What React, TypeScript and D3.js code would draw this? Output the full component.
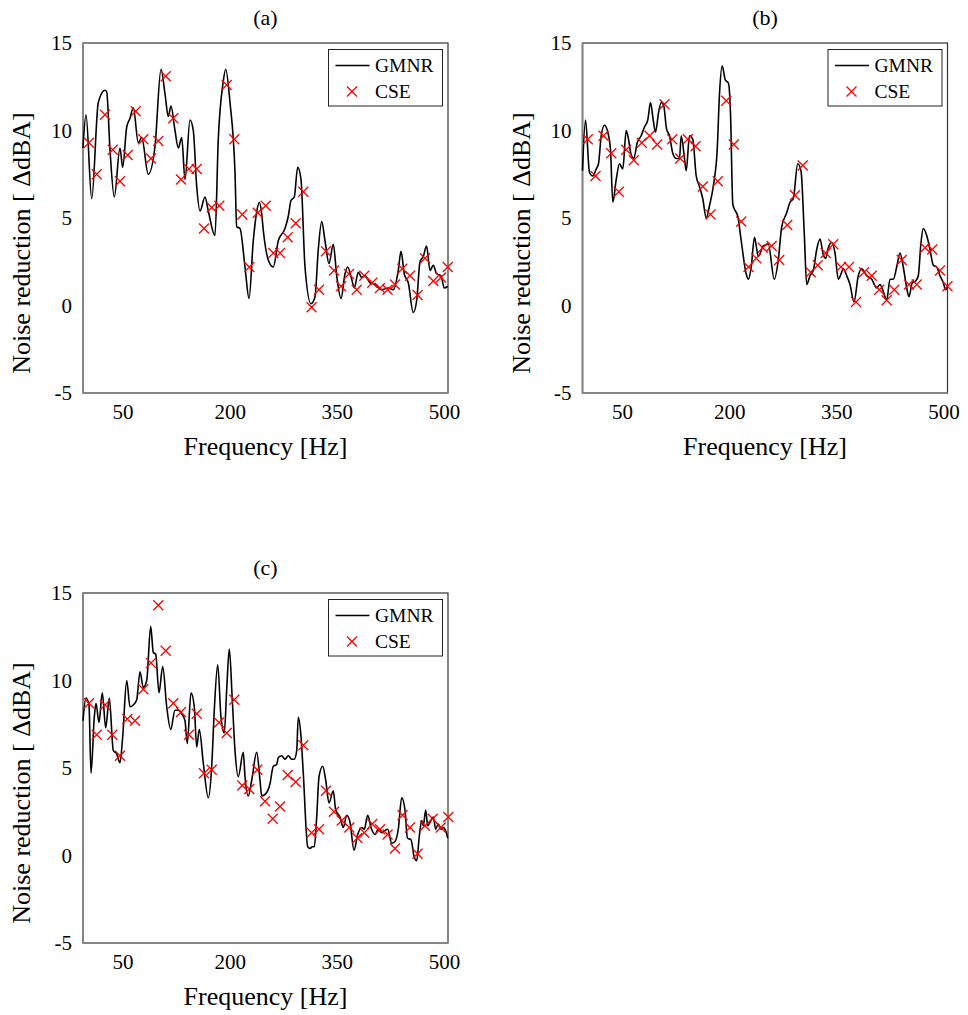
import React from "react"
import * as d3 from "d3"

const FONT = '"Liberation Serif", "Times New Roman", serif'

// axis setup (frequency in Hz, noise reduction in dBA)
const X_DOMAIN: [number, number] = [-6, 505]
const Y_DOMAIN: [number, number] = [-5, 15]
const X_TICKS = [50, 200, 350, 500]
const Y_TICKS = [-5, 0, 5, 10, 15]

const SERIES_LINE = "GMNR"
const SERIES_MARK = "CSE"

// ── Panel (a) ────────────────────────────────────────────────────────────────
const gmnrA: [number, number][] = [
  [-6, 9.0], [-1.8, 10.9], [6.2, 6.1], [15.4, 11.6], [24.8, 12.3], [27.2, 12.2],
  [31.8, 8.9], [37.8, 6.2], [45.8, 9.0], [49.5, 7.9], [55.2, 10.2], [59.8, 10.7],
  [64.5, 11.3], [71.4, 9.3], [76.2, 9.6], [85.4, 7.5], [94.8, 9.1], [103.2, 13.5],
  [108.8, 12.1], [113.4, 10.8], [117.2, 11.4], [122.8, 10.0], [127.4, 9.0],
  [132.2, 9.6], [136.8, 7.2], [143.8, 10.6], [148.4, 10.0], [153.2, 6.8],
  [157.8, 5.4], [164.8, 6.2], [169.4, 5.4], [178.8, 4.0], [183.4, 9.5],
  [190, 12.7], [193.8, 13.5], [199.8, 11.6], [206.8, 7.6], [209.2, 4.5],
  [213.8, 4.4], [220.8, 2.2], [226.4, 0.4], [232.4, 3.7], [237, 5.3],
  [240.8, 5.9], [244, 5.3], [246.4, 4.3], [253.4, 2.6], [260.4, 2.2],
  [267.4, 3.7], [276.8, 4.4], [281.4, 5.1], [285.2, 6.0], [289.8, 6.2],
  [294.6, 7.9], [299.2, 7.2], [304.8, 2.2], [313.2, 0.1], [318.8, 0.5],
  [323.4, 3.2], [328.2, 4.8], [332.8, 3.7], [338.4, 2.4], [344.4, 3.5],
  [349.2, 1.7], [355.2, 0.4], [360.8, 1.8], [364.5, 2.2], [370.2, 1.5],
  [373.8, 1.0], [379.4, 1.9], [384.2, 1.6], [388.8, 1.7], [395.8, 1.3],
  [402.8, 1.2], [412, 0.9], [421.4, 1.0], [428.4, 0.9], [435.4, 2.0],
  [439.2, 3.1], [443.8, 1.8], [449.4, 1.3], [456.4, -0.4], [461.2, 0.3],
  [465.8, 2.5], [470.4, 2.8], [475, 3.4], [479.8, 2.0], [484.4, 2.3],
  [489.2, 1.8], [495.2, 1.7], [499.8, 1.0], [504.6, 1.1],
]

const cseA: [number, number][] = [
  [2.4, 9.3], [13.2, 7.5], [24.8, 10.9], [35.6, 8.9], [45.8, 7.1], [56.6, 8.6],
  [67.8, 11.1], [78.4, 9.5], [89.2, 8.4], [99.4, 9.4], [109.8, 13.1], [120.4, 10.7],
  [131.2, 7.2], [142.4, 7.8], [153.2, 7.8], [163.4, 4.4], [174.2, 5.6], [184.8, 5.7],
  [195.2, 12.6], [205.8, 9.5], [217, 5.2], [226.8, 2.2], [238.6, 5.3], [249.8, 5.7],
  [260.4, 3.0], [269.8, 3.0], [280.6, 3.9], [291.8, 4.7], [302.4, 6.5], [314, -0.1],
  [324.4, 0.9], [334.2, 3.1], [345.4, 2.0], [355.2, 1.1], [366.4, 1.8], [377.2, 0.9],
  [387.8, 1.7], [399, 1.3], [409.8, 1.0], [420.4, 0.9], [430.8, 1.2], [441, 2.1],
  [451.8, 1.7], [462.4, 0.6], [472.8, 2.7], [484.4, 1.4], [495.2, 1.6], [504.6, 2.2],
]

// ── Panel (b) ────────────────────────────────────────────────────────────────
const gmnrB: [number, number][] = [
  [-6, 7.7], [-1.8, 10.6], [3.8, 7.6], [8.4, 7.4], [13.2, 7.8], [16.4, 8.1],
  [20.2, 9.7], [24.8, 10.3], [29.4, 9.9], [33.2, 8.9], [36.4, 5.9], [41.2, 7.2],
  [45.8, 8.1], [50.4, 7.8], [55.2, 10.0], [58.4, 9.5], [62.2, 8.6], [65.8, 8.4],
  [70.6, 9.3], [76.2, 9.7], [80.8, 10.2], [85.4, 10.6], [89.2, 11.6], [93, 10.6],
  [96.2, 9.9], [100.4, 11.0], [104.2, 11.6], [107.8, 11.4], [111.6, 10.1],
  [115.8, 9.7], [120.4, 8.7], [125.2, 8.4], [129.8, 8.4], [132.2, 9.7],
  [136.8, 8.4], [139.2, 7.7], [143.8, 9.7], [148.4, 9.5], [153.2, 7.4],
  [157.8, 6.8], [162.4, 6.1], [167.2, 5.0], [171.8, 5.7], [177.8, 7.0],
  [182.6, 8.9], [185.8, 12.1], [189.6, 13.7], [193.8, 12.9], [198.4, 12.7],
  [201.2, 11.0], [204.4, 5.8], [206.8, 5.5], [211.4, 5.1], [216.2, 3.7],
  [223.2, 1.8], [226.4, 1.5], [230.2, 2.2], [234.8, 3.9], [240.1, 2.8],
  [247.1, 3.4], [254.1, 3.5], [262.5, 1.5], [268.1, 2.6], [272.9, 4.5],
  [279.9, 5.3], [284.5, 5.9], [289.1, 6.1], [295.3, 8.1], [299.9, 7.7],
  [304.5, 4.1], [307.9, 1.2], [312.5, 1.7], [317.1, 2.0], [321.9, 3.2],
  [326.5, 3.8], [331.1, 2.9], [334.5, 2.7], [338.1, 3.3], [342.9, 3.6],
  [347.5, 3.0], [352.1, 1.5], [355.9, 1.8], [359.1, 2.1], [363.9, 1.7],
  [368.5, 1.2], [374.1, 0.2], [380.1, 1.7], [384.9, 2.1], [391.9, 1.7],
  [398.9, 1.5], [405.9, 1.0], [410.5, 1.2], [415.1, 0.8], [419.9, 0.3],
  [424.5, 1.5], [429.1, 1.5], [433.9, 2.2], [438.5, 3.0], [443.1, 2.2],
  [447.9, 1.0], [451.1, 0.5], [455.7, 1.3], [460.5, 1.4], [464.1, 1.7],
  [467.9, 3.6], [471.1, 4.4], [475.9, 4.0], [480.5, 3.2], [485.1, 2.3],
  [489.9, 2.2], [494.5, 1.7], [499.1, 1.3], [502.5, 0.9], [505, 1.1],
]

const cseB: [number, number][] = [
  [1.4, 9.5], [12.2, 7.4], [23.4, 9.7], [34.2, 8.7], [44.8, 6.5], [55.2, 8.9],
  [65.8, 8.3], [77, 9.3], [87.8, 9.7], [98.6, 9.2], [108.8, 11.5], [119.6, 9.5],
  [130.8, 8.4], [141.4, 9.5], [152.2, 9.1], [162.4, 6.8], [173.2, 5.2], [183.4, 7.1],
  [195.2, 11.7], [205.8, 9.2], [216.2, 4.8], [226.4, 2.2], [237.2, 2.7], [246.4, 3.3],
  [258.8, 3.4], [269.4, 2.6], [280.6, 4.6], [291.5, 6.3], [302.3, 8.0], [313.5, 1.9],
  [323.3, 2.3], [334.5, 3.0], [345.1, 3.5], [355.9, 2.2], [367.1, 2.2], [376.9, 0.2],
  [388.1, 1.9], [398.9, 1.7], [409.5, 0.9], [419.8, 0.3], [430.5, 0.9], [440.9, 2.6],
  [451.1, 1.2], [461.9, 1.2], [473.5, 3.3], [483.7, 3.2], [494.5, 2.0], [505, 1.1],
]

// ── Panel (c) ────────────────────────────────────────────────────────────────
const gmnrC: [number, number][] = [
  [-6, 7.7], [-1.8, 9.0], [2.4, 8.6], [5.2, 4.7], [9.8, 7.9], [12.2, 8.7],
  [16.4, 7.6], [21, 9.3], [25.8, 7.3], [30.8, 9.0], [36.4, 6.0], [41.2, 5.8],
  [45.8, 5.3], [49.6, 6.8], [55.2, 10.0], [59.8, 8.5], [64.4, 8.6], [69.2, 8.9],
  [73.8, 10.5], [78.4, 9.6], [83.2, 10.0], [88.8, 13.1], [92.4, 11.6], [95.8, 11.5],
  [100.4, 9.3], [105.6, 10.8], [111.2, 8.5], [116.8, 7.2], [122.8, 8.3],
  [127.4, 8.3], [132.2, 8.1], [136.8, 7.7], [140, 6.4], [145.2, 9.3], [149.8, 8.5],
  [153.2, 6.2], [156.8, 7.2], [162.4, 5.3], [169.4, 3.3], [174.2, 5.1],
  [177.8, 8.3], [182.6, 10.9], [187.2, 7.9], [191.8, 7.0], [195.2, 9.5],
  [198.8, 11.8], [203, 8.9], [206.8, 6.0], [211.4, 4.5], [218.4, 5.9],
  [220.8, 4.5], [225.4, 3.4], [230.2, 4.3], [237.2, 5.9], [241.8, 4.3],
  [244.2, 3.4], [251.2, 3.6], [255.8, 4.1], [260.4, 5.1], [265.2, 5.2],
  [267.4, 5.6], [272.2, 5.7], [276.8, 5.5], [281.4, 5.7], [286.2, 5.5],
  [289.8, 5.5], [293.2, 6.0], [295.4, 7.9], [299.2, 6.8], [302.4, 4.7],
  [308.6, 0.5], [311.8, 0.4], [315, 0.5], [317.8, 0.5], [321.2, 2.2],
  [324.4, 4.5], [329.6, 5.1], [333.8, 4.3], [338.4, 3.0], [344.4, 3.7],
  [347.8, 2.6], [353.8, 2.2], [358.4, 1.6], [363.2, 2.3], [367.8, 1.9],
  [373.4, 0.3], [378.6, 1.2], [384.2, 1.6], [387.8, 1.5], [392.6, 2.3],
  [397.2, 1.6], [402.8, 1.2], [407.4, 1.5], [412.2, 1.3], [415.8, 1.4],
  [420.6, 1.5], [426.2, 0.7], [430.8, 0.8], [435.4, 1.5], [440.2, 3.3],
  [444.8, 2.6], [448.2, 1.0], [453.2, 0.9], [457.8, -0.1], [461.2, -0.3],
  [464.8, 1.1], [468.2, 2.0], [470.4, 1.7], [473.8, 2.6], [476.6, 1.7],
  [479.8, 1.9], [484.4, 2.2], [487.8, 1.5], [491.4, 1.8], [495.2, 1.5],
  [498.4, 1.6], [501.8, 1.4], [504.6, 1.0],
]

const cseC: [number, number][] = [
  [2.4, 8.7], [13.2, 6.9], [24.8, 8.6], [35, 6.9], [45.8, 5.7], [56, 7.8],
  [66.8, 7.7], [78.4, 9.5], [89.2, 11.0], [99.4, 14.3], [109.8, 11.7], [120.4, 8.7],
  [131.2, 8.2], [142.4, 6.9], [153.2, 8.1], [163.4, 4.7], [174.2, 4.9], [184.4, 7.6],
  [195.2, 7.0], [205.8, 8.9], [217, 4.0], [226.8, 3.8], [238, 4.9], [248.8, 3.1],
  [259.6, 2.1], [269.8, 2.8], [280.6, 4.6], [291.8, 4.2], [302.4, 6.3], [314, 1.3],
  [324.4, 1.5], [334.2, 3.7], [345.4, 2.5], [356.2, 2.0], [366.8, 1.6], [378, 1.0],
  [387.8, 1.3], [399, 1.8], [409.8, 1.5], [420.4, 1.2], [430.8, 0.4], [441.4, 2.3],
  [451.8, 1.6], [462.4, 0.1], [472.8, 1.7], [483.6, 2.1], [494.8, 1.6], [505.4, 2.2],
]

const PANELS = [
  { key: "a", label: "(a)", dx: 0, dy: 0, line: gmnrA, marks: cseA },
  { key: "b", label: "(b)", dx: 499.5, dy: 0, line: gmnrB, marks: cseB },
  { key: "c", label: "(c)", dx: 0, dy: 550, line: gmnrC, marks: cseC },
]

// plot box inside one panel
const BOX = { left: 83, top: 43, right: 448, bottom: 393 }

const CROSS = "M-5,-5L5,5M-5,5L5,-5"

function Panel({ dx, dy, label, line, marks }: any) {
  const x = d3.scaleLinear().domain(X_DOMAIN).range([BOX.left, BOX.right])
  const y = d3.scaleLinear().domain(Y_DOMAIN).range([BOX.bottom, BOX.top])
  const path = d3
    .line<[number, number]>()
    .x(d => x(d[0]))
    .y(d => y(d[1]))
    .curve(d3.curveMonotoneX)(line)

  const midX = (BOX.left + BOX.right) / 2
  const lgX = 328.5
  const lgY = 49.5

  return (
    <g transform={`translate(${dx}, ${dy})`} fontFamily={FONT}>
      <text x={midX} y={25} fontSize={22} textAnchor="middle" fill="#000">
        {label}
      </text>

      <rect
        x={BOX.left}
        y={BOX.top}
        width={BOX.right - BOX.left}
        height={BOX.bottom - BOX.top}
        fill="#fff"
        stroke="#333"
        strokeWidth={1.2}
      />
      <line x1={BOX.left} x2={BOX.left} y1={BOX.top} y2={BOX.bottom} stroke="#858585" strokeWidth={2} />
      <line x1={BOX.left} x2={BOX.right} y1={BOX.bottom} y2={BOX.bottom} stroke="#858585" strokeWidth={2} />

      {Y_TICKS.map(t => (
        <text key={t} x={72} y={y(t)} dy="0.35em" fontSize={21} textAnchor="end" fill="#000">
          {t}
        </text>
      ))}
      {X_TICKS.map(t => (
        <text key={t} x={x(t)} y={419} fontSize={21} textAnchor="middle" fill="#000">
          {t}
        </text>
      ))}

      <text x={midX} y={455} fontSize={26} textAnchor="middle" fill="#000">
        Frequency [Hz]
      </text>
      <text
        transform={`translate(30, 243) rotate(-90)`}
        fontSize={26}
        textAnchor="middle"
        fill="#000"
      >
        Noise reduction [ ΔdBA]
      </text>

      <path d={path || ""} fill="none" stroke="#000" strokeWidth={1.6} strokeLinejoin="round" />

      {marks.map((d: [number, number], i: number) => (
        <path
          key={i}
          d={CROSS}
          transform={`translate(${x(d[0])}, ${y(d[1])})`}
          stroke="#ff0000"
          strokeWidth={1.3}
          fill="none"
        />
      ))}

      <g>
        <rect x={lgX} y={lgY} width={114} height={56.5} fill="#fff" stroke="#222" strokeWidth={1} />
        <line x1={lgX + 7} x2={lgX + 41} y1={lgY + 16} y2={lgY + 16} stroke="#000" strokeWidth={1.6} />
        <text x={lgX + 46.5} y={lgY + 22.5} fontSize={19.5} fill="#000">
          {SERIES_LINE}
        </text>
        <path d={CROSS} transform={`translate(${lgX + 23.5}, ${lgY + 42})`} stroke="#ff0000" strokeWidth={1.3} fill="none" />
        <text x={lgX + 46.5} y={lgY + 48.5} fontSize={19.5} fill="#000">
          {SERIES_MARK}
        </text>
      </g>
    </g>
  )
}

export default function App() {
  return (
    <div style={{ position: "absolute", left: 0, top: 0 }}>
      <svg width={968} height={1015} style={{ display: "block", background: "#fff" }}>
        {PANELS.map(p => (
          <Panel key={p.key} {...p} />
        ))}
      </svg>
    </div>
  )
}
